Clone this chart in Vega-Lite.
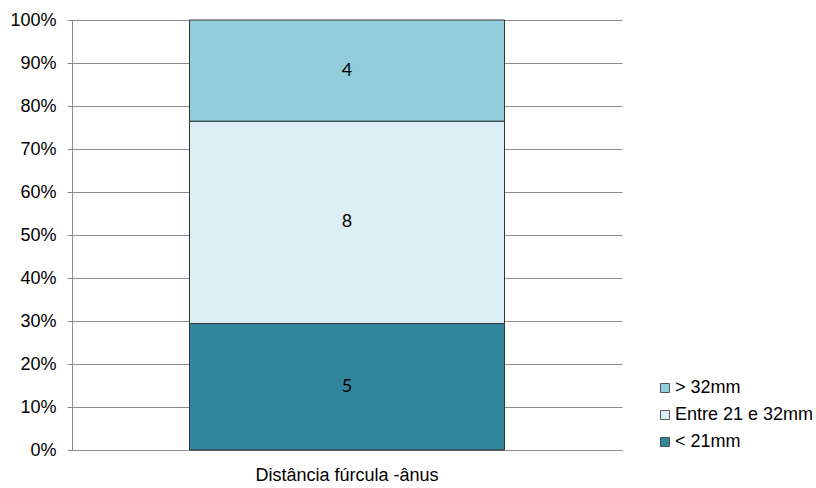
{
  "$schema": "https://vega.github.io/schema/vega-lite/v6.json",
  "autosize": "none",
  "padding": {"left": 72, "top": 20, "right": 194, "bottom": 38},
  "width": 550,
  "height": 430,
  "background": "white",
  "config": {
    "view": {"stroke": null},
    "font": "Liberation Sans"
  },
  "data": {
    "values": [
      {"grupo": "Distância fúrcula -ânus", "categoria": "< 21mm", "n": 5, "ordem": 1},
      {"grupo": "Distância fúrcula -ânus", "categoria": "Entre 21 e 32mm", "n": 8, "ordem": 2},
      {"grupo": "Distância fúrcula -ânus", "categoria": "> 32mm", "n": 4, "ordem": 3}
    ]
  },
  "encoding": {
    "x": {
      "field": "grupo",
      "type": "nominal",
      "scale": {"paddingInner": 0, "paddingOuter": 0.373},
      "axis": {
        "title": null,
        "labelAngle": 0,
        "labelFontSize": 18,
        "labelColor": "#000000",
        "labelFont": "Liberation Sans",
        "labelLimit": 0,
        "ticks": false,
        "labelPadding": 16,
        "domain": true,
        "domainColor": "#8c8c8c",
        "domainWidth": 1
      }
    },
    "y": {
      "field": "n",
      "type": "quantitative",
      "stack": "normalize",
      "scale": {"domain": [0, 1]},
      "axis": {
        "title": null,
        "format": ".0%",
        "values": [0, 0.1, 0.2, 0.3, 0.4, 0.5, 0.6, 0.7, 0.8, 0.9, 1],
        "labelFontSize": 18,
        "labelColor": "#000000",
        "labelFont": "Liberation Sans",
        "tickSize": 5,
        "tickColor": "#8c8c8c",
        "labelPadding": 11,
        "domainColor": "#8c8c8c",
        "grid": true,
        "gridColor": "#8c8c8c",
        "gridWidth": 1
      }
    },
    "order": {"field": "ordem", "type": "quantitative", "sort": "ascending"}
  },
  "layer": [
    {
      "mark": {"type": "bar", "stroke": "#333333", "strokeWidth": 1},
      "encoding": {
        "color": {
          "field": "categoria",
          "type": "nominal",
          "scale": {
            "domain": ["> 32mm", "Entre 21 e 32mm", "< 21mm"],
            "range": ["#92cddc", "#daeef3", "#31859c"]
          },
          "legend": {
            "title": null,
            "orient": "none",
            "legendX": 584,
            "legendY": 359,
            "padding": 0,
            "symbolType": "square",
            "symbolSize": 81,
            "symbolStrokeColor": "#333333",
            "symbolStrokeWidth": 0.8,
            "symbolOpacity": 1,
            "labelFontSize": 18,
            "labelFont": "Liberation Sans",
            "labelColor": "#000000",
            "labelLimit": 0,
            "labelOffset": 1,
            "rowPadding": 9
          }
        }
      }
    },
    {
      "mark": {"type": "text", "font": "Lato", "fontSize": 18, "color": "#000000", "baseline": "middle"},
      "encoding": {
        "y": {"field": "n", "type": "quantitative", "stack": "normalize", "bandPosition": 0.5},
        "text": {"field": "n", "type": "quantitative"}
      }
    }
  ]
}
